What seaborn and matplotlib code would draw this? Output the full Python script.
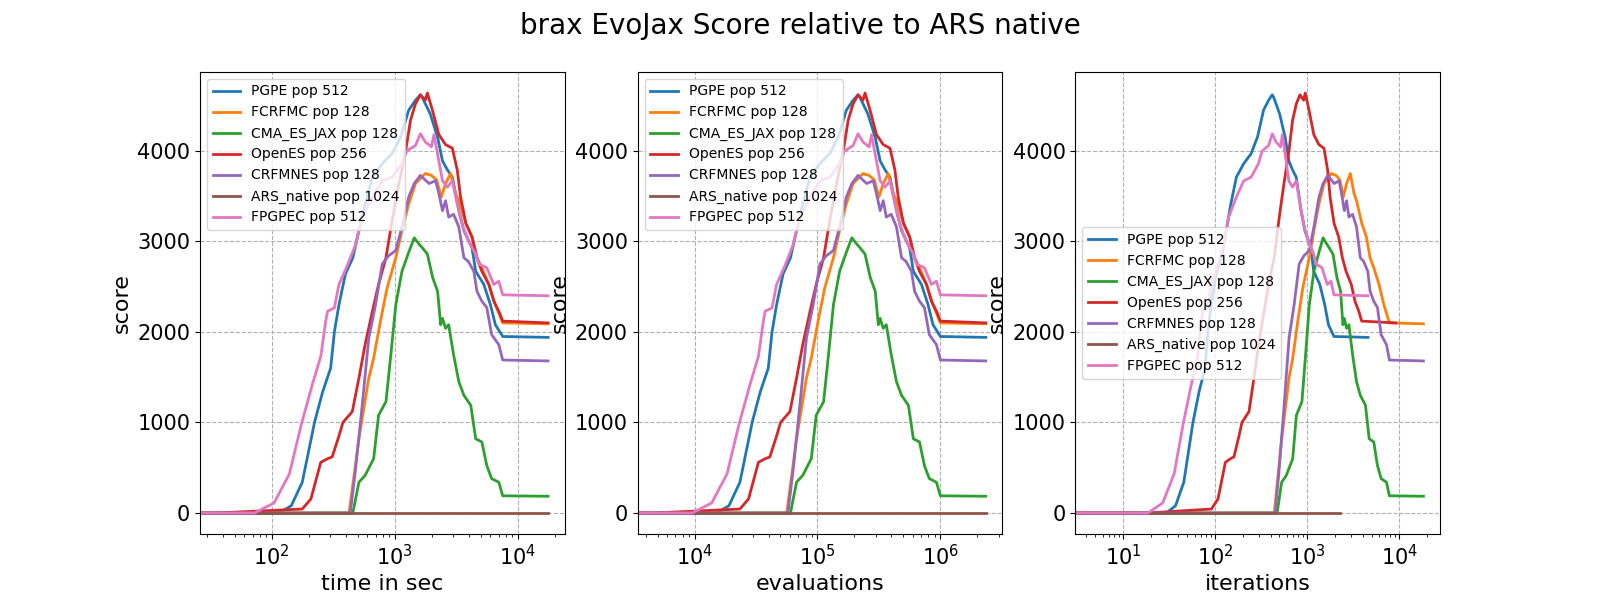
import matplotlib
matplotlib.use('Agg')
import matplotlib.pyplot as plt
import numpy as np
import seaborn as sns


# score curves (first sample is at 0 evaluations)
PGPE_EVALS = [0, 4700, 15100, 19050, 23400, 29500, 34300, 39800, 42700, 46500, 52500,
              60300, 67600, 75900, 87100, 104700, 125900, 147900, 171800, 195000, 213800,
              221800, 257000, 295100, 323600, 354800, 389000, 439500, 483100, 562300, 602600,
              701500, 794300, 871000, 1000000, 2340000]
PGPE_SCORE = [0, 0, 0, 80, 340, 1007, 1340, 1600, 2000, 2300, 2640,
              2820, 3120, 3415, 3710, 3860, 3970, 4155, 4450, 4560, 4620,
              4590, 4410, 4150, 3890, 3790, 3710, 3340, 3120, 2930, 2670,
              2525, 2300, 2080, 1950, 1940]

FCRFMC_EVALS = [0, 4700, 56200, 67600, 81300, 89100, 101200, 114800, 134900, 151400, 171800,
                195000, 234400, 263000, 290000, 316200, 342800, 376700, 413000, 439500, 501200,
                562300, 616600, 676100, 770900, 871000, 1000000, 2340000]
FCRFMC_SCORE = [0, 0, 0, 820, 1490, 1710, 2120, 2490, 2820, 3120, 3415,
                3640, 3750, 3730, 3680, 3490, 3640, 3750, 3530, 3450, 3200,
                3050, 2820, 2710, 2525, 2300, 2100, 2090]

CMAES_EVALS = [0, 4700, 60300, 67600, 75900, 89100, 97700, 112200, 123000, 134900, 151400,
               171800, 190500, 208900, 221800, 243800, 269200, 295100, 312600, 323600, 342800,
               363100, 398100, 439500, 483100, 549500, 602600, 676100, 741300, 812800, 928900,
               1000000, 2340000]
CMAES_SCORE = [0, 0, 0, 340, 415, 600, 1080, 1230, 1750, 2300, 2670,
               2880, 3040, 2970, 2930, 2860, 2600, 2450, 2080, 2150, 2040,
               2080, 1750, 1450, 1300, 1190, 820, 785, 525, 380, 340,
               190, 185]

OPENES_EVALS = [0, 4700, 23400, 27500, 33100, 37600, 41000, 46500, 50100, 59700, 67600,
                75900, 87100, 97700, 112200, 125900, 141300, 162200, 177800, 195000, 213800,
                234400, 243800, 269200, 302000, 342800, 389000, 426600, 453900, 501200, 562300,
                616600, 676100, 770900, 845300, 928900, 1000000, 2340000]
OPENES_SCORE = [0, 0, 44, 155, 560, 600, 620, 850, 1000, 1120, 1490,
                1860, 2230, 2525, 2820, 3230, 3600, 4000, 4340, 4520, 4620,
                4560, 4640, 4440, 4180, 4070, 4030, 3790, 3490, 3200, 3050,
                2820, 2670, 2525, 2340, 2230, 2120, 2100]

CRFMNES_EVALS = [0, 4700, 57500, 63100, 71900, 81300, 92300, 104700, 117500, 134900, 151400,
                 171800, 190500, 213800, 251200, 284400, 302000, 323600, 342800, 363100, 398100,
                 439500, 483100, 524800, 582100, 616600, 676100, 741300, 812800, 928900, 1000000,
                 2340000]
CRFMNES_SCORE = [0, 0, 0, 450, 1190, 1930, 2300, 2750, 2840, 2900, 3160,
                 3490, 3640, 3730, 3640, 3670, 3530, 3340, 3450, 3270, 3300,
                 3160, 2820, 2780, 2670, 2450, 2340, 2270, 1970, 1860, 1690,
                 1680]

ARS_EVALS = [0, 4700, 2340000]
ARS_SCORE = [0, 0, 0]

FPGPEC_EVALS = [0, 4700, 9550, 13800, 18400, 22900, 28200, 33100, 36300, 37600, 42700,
                46500, 54300, 63100, 71900, 87100, 104700, 125900, 151400, 166000, 195000,
                213800, 234400, 263000, 275400, 302000, 323600, 354800, 389000, 426600, 467700,
                524800, 602600, 638300, 741300, 845300, 928900, 1000000, 2340000]
FPGPEC_SCORE = [0, 0, 0, 111, 433, 970, 1415, 1730, 2120, 2230, 2266,
                2525, 2730, 2955, 3270, 3490, 3670, 3710, 3860, 4000, 4060,
                4190, 4100, 4045, 4180, 3890, 3670, 3600, 3670, 3415, 3190,
                3010, 2860, 2750, 2710, 2525, 2560, 2410, 2400]

NAMES = ['PGPE', 'FCRFMC', 'CMA_ES_JAX', 'OpenES', 'CRFMNES', 'ARS_native', 'FPGPEC']
POPS = [512, 128, 128, 256, 128, 1024, 512]
EVALS = [PGPE_EVALS, FCRFMC_EVALS, CMAES_EVALS, OPENES_EVALS, CRFMNES_EVALS, ARS_EVALS, FPGPEC_EVALS]
SCORES = [PGPE_SCORE, FCRFMC_SCORE, CMAES_SCORE, OPENES_SCORE, CRFMNES_SCORE, ARS_SCORE, FPGPEC_SCORE]
EVALS_PER_SEC = 132

colors = sns.color_palette('tab10')

fig, axes = plt.subplots(1, 3, figsize=(16, 6), dpi=100)
fig.suptitle('brax EvoJax Score relative to ARS native', fontsize=20)

xlabels = ['time in sec', 'evaluations', 'iterations']
for k, ax in enumerate(axes):
    for i, name in enumerate(NAMES):
        ev = np.array(EVALS[i], dtype=float)
        if k == 0:
            x = ev / EVALS_PER_SEC
        elif k == 1:
            x = ev
        else:
            x = ev / POPS[i]
        sns.lineplot(x=x, y=SCORES[i], ax=ax, color=colors[i], linewidth=2,
                     label=f'{name} pop {POPS[i]}')
    # log axis set after plotting; the x=0 start is clipped to the left edge
    ax.set_xscale('log')
    ax.set_xlabel(xlabels[k], fontsize=16)
    ax.set_ylabel('score', fontsize=16)
    ax.tick_params(labelsize=15)
    ax.grid(True, linestyle='--')
    ax.legend(fontsize=10, loc='upper left' if k < 2 else 'center left')

fig.savefig('out.png')
